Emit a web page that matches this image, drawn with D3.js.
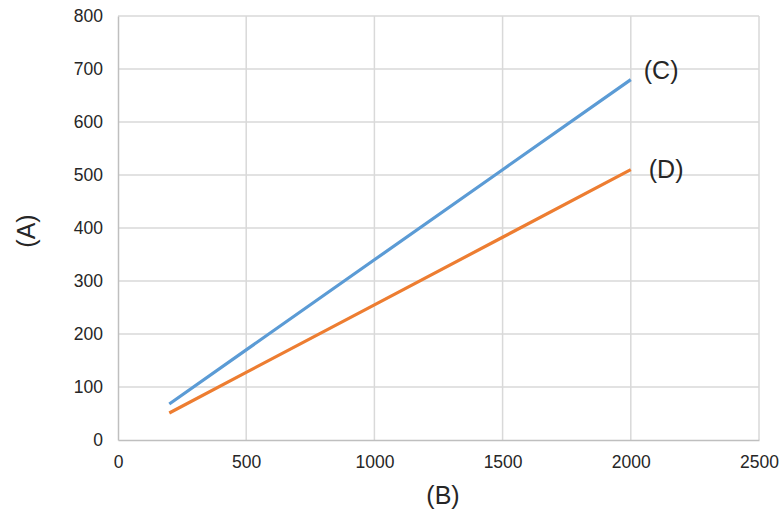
<!DOCTYPE html>
<html>
<head>
<meta charset="utf-8">
<script src="https://cdn.jsdelivr.net/npm/d3@7"></script>
<style>
  html, body { margin: 0; padding: 0; background: #fff; }
  svg { display: block; font-family: "Liberation Sans", Arial, sans-serif; }
</style>
</head>
<body>
<svg id="chart" width="784" height="518"></svg>
<script>
// Series values (x in B units, y in A units)
const xValues = [200, 500, 1000, 1500, 2000];
const seriesC = [68, 170, 340, 510, 680];
const seriesD = [51, 127.5, 255, 382.5, 510];
const seriesNames = ["(C)", "(D)"];
const seriesColors = ["#5b9bd5", "#ed7d31"];
const xTicks = [0, 500, 1000, 1500, 2000, 2500];
const yTicks = [0, 100, 200, 300, 400, 500, 600, 700, 800];
const xTitle = "(B)";
const yTitle = "(A)";

const svg = d3.select("#chart");
const margin = { left: 118, right: 25, top: 16, bottom: 78 };
const W = 784, H = 518;

const x = d3.scaleLinear().domain([0, 2500]).range([margin.left, W - margin.right]);
const y = d3.scaleLinear().domain([0, 800]).range([H - margin.bottom, margin.top]);

// Gridlines
const grid = svg.append("g");
grid.selectAll("line.h").data(yTicks.filter(d => d > 0)).join("line")
  .attr("x1", x(0)).attr("x2", x(2500))
  .attr("y1", d => y(d)).attr("y2", d => y(d))
  .attr("stroke", "#d9d9d9").attr("stroke-width", 1.5);
grid.selectAll("line.v").data(xTicks.filter(d => d > 0)).join("line")
  .attr("y1", y(0)).attr("y2", y(800))
  .attr("x1", d => x(d)).attr("x2", d => x(d))
  .attr("stroke", "#d9d9d9").attr("stroke-width", 1.5);

// Axes
const xAxis = svg.append("g")
  .attr("transform", `translate(0,${y(0)})`)
  .call(d3.axisBottom(x).tickValues(xTicks).tickSize(0).tickPadding(16).tickFormat(d3.format("d")));
const yAxis = svg.append("g")
  .attr("transform", `translate(${x(0)},0)`)
  .call(d3.axisLeft(y).tickValues(yTicks).tickSize(0).tickPadding(15).tickFormat(d3.format("d")));
[xAxis, yAxis].forEach(a => {
  a.select(".domain").attr("stroke", "#bfbfbf").attr("stroke-width", 1.5);
  a.selectAll("text").attr("font-size", 17.5).attr("fill", "#262626")
    .attr("font-family", "'Liberation Sans', Arial, sans-serif");
});

// Lines with end labels
const line = d3.line().x((d, i) => x(xValues[i])).y(d => y(d));
const labelDx = [13, 18];
const labelDy = [-1, 8];
[seriesC, seriesD].forEach((s, k) => {
  svg.append("path").datum(s)
    .attr("d", line)
    .attr("fill", "none")
    .attr("stroke", seriesColors[k])
    .attr("stroke-width", 3.2);
  svg.append("text")
    .attr("x", x(xValues[xValues.length - 1]) + labelDx[k])
    .attr("y", y(s[s.length - 1]) + labelDy[k])
    .attr("font-size", 25)
    .attr("fill", "#262626")
    .text(seriesNames[k]);
});

// Axis titles
svg.append("text")
  .attr("x", 443)
  .attr("y", 504)
  .attr("text-anchor", "middle")
  .attr("font-size", 25)
  .attr("fill", "#262626")
  .text(xTitle);
svg.append("text")
  .attr("transform", `translate(35,231) rotate(-90)`)
  .attr("text-anchor", "middle")
  .attr("font-size", 25)
  .attr("fill", "#262626")
  .text(yTitle);
</script>
</body>
</html>
